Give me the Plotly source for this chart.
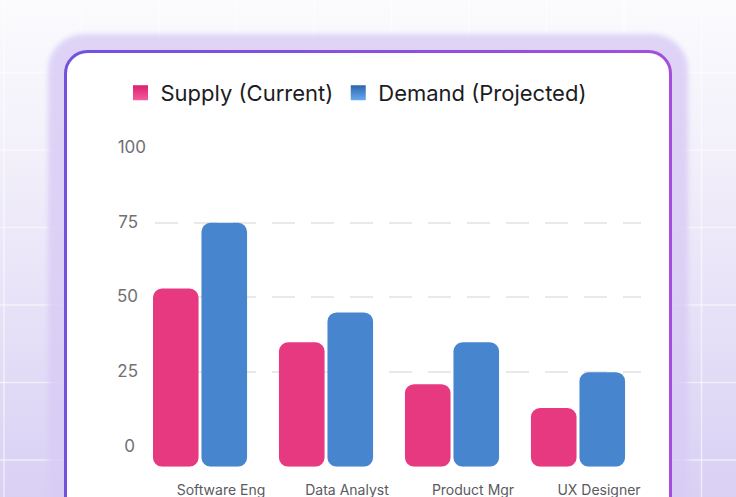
import base64
import plotly.graph_objects as go

# ---------------- data ----------------
CATEGORIES = ["Software Eng", "Data Analyst", "Product Mgr", "UX Designer"]
SUPPLY = [53, 35, 21, 13]
DEMAND = [75, 45, 35, 25]
Y_TICKS = [0, 25, 50, 75, 100]
Y_TICK_TEXT = ["0", "25", "50", "75", "100"]
GRID_VALUES = [25, 50, 75]
SERIES_NAMES = ["Supply (Current)", "Demand (Projected)"]

# ---------------- style ----------------
W, H = 736, 497
BASELINE = -6.6          # bars and baseline start slightly below zero
PINK = "#e7397f"
PINK_DARK, PINK_LIGHT = "#dc1f6e", "#f55c9e"
BLUE = "#4885cf"
BLUE_DARK, BLUE_LIGHT = "#2c66ad", "#68aaee"
FONT = "Inter"

# background (page gradient, faint grid, glow and card) as an SVG image
grid_lines = []
for k in range(8):
    y = 72.5 + 77.5 * k
    grid_lines.append(f'<line x1="0" y1="{y}" x2="{W}" y2="{y}" stroke="#ffffff" stroke-opacity="0.55" stroke-width="1.5"/>')
for k in range(10):
    x = 4 + 77.5 * k
    grid_lines.append(f'<line x1="{x}" y1="0" x2="{x}" y2="{H}" stroke="#ffffff" stroke-opacity="0.55" stroke-width="1.5"/>')

svg = f'''<svg xmlns="http://www.w3.org/2000/svg" width="{W}" height="{H}" viewBox="0 0 {W} {H}" preserveAspectRatio="none">
<defs>
<linearGradient id="bg" x1="0" y1="0" x2="0" y2="1">
<stop offset="0" stop-color="#fbfbfd"/><stop offset="0.35" stop-color="#f1eefa"/><stop offset="1" stop-color="#d9d0f4"/>
</linearGradient>
<linearGradient id="bd" x1="0" y1="0" x2="1" y2="0">
<stop offset="0" stop-color="#7052df"/><stop offset="1" stop-color="#a34fdc"/>
</linearGradient>
<filter id="bl" x="-10%" y="-10%" width="120%" height="120%"><feGaussianBlur stdDeviation="2.5"/></filter>
</defs>
<rect width="{W}" height="{H}" fill="url(#bg)"/>
{''.join(grid_lines)}
<rect x="48" y="34" width="640" height="520" rx="36" fill="#d8cbf5" fill-opacity="0.8" filter="url(#bl)"/>
<rect x="65.5" y="51.5" width="605" height="520" rx="22" fill="#ffffff" stroke="url(#bd)" stroke-width="3"/>
</svg>'''
bg_src = "data:image/svg+xml;base64," + base64.b64encode(svg.encode()).decode()

fig = go.Figure()
fig.add_trace(go.Bar(
    x=CATEGORIES, y=[v - BASELINE for v in SUPPLY], base=BASELINE,
    name=SERIES_NAMES[0], marker=dict(color=PINK, line=dict(width=0)),
    customdata=SUPPLY, hovertemplate="%{x}: %{customdata}<extra></extra>",
    showlegend=False,
))
fig.add_trace(go.Bar(
    x=CATEGORIES, y=[v - BASELINE for v in DEMAND], base=BASELINE,
    name=SERIES_NAMES[1], marker=dict(color=BLUE, line=dict(width=0)),
    customdata=DEMAND, hovertemplate="%{x}: %{customdata}<extra></extra>",
    showlegend=False,
))
# legend entries (larger gradient squares)
for name, c0, c1 in [(SERIES_NAMES[0], PINK_DARK, PINK_LIGHT),
                     (SERIES_NAMES[1], BLUE_DARK, BLUE_LIGHT)]:
    fig.add_trace(go.Scatter(
        x=[None], y=[None], mode="markers", name=name, hoverinfo="skip",
        marker=dict(symbol="square", size=15, color=c0,
                    gradient=dict(type="vertical", color=c1),
                    line=dict(width=0)),
    ))
# invisible trace that carries the grid-only overlay axis
fig.add_trace(go.Scatter(
    x=CATEGORIES, y=[None] * len(CATEGORIES), yaxis="y2",
    showlegend=False, hoverinfo="skip", mode="markers",
))

def pad(t):
    # centre the labels over each other (plotly right-aligns them)
    n = 3 - len(t)
    return t + "\u2007" * (n // 2) + ("\u2008\u2009" if n % 2 else "")

x_dom = [150 / W, 641 / W]
y_dom = [1 - 466.7 / H, 1 - 148 / H]
x_rng = [-0.397, 3.5]
y_rng = [BASELINE, 100]

fig.update_layout(
    width=W, height=H, autosize=False,
    margin=dict(l=0, r=0, t=0, b=0, pad=0, autoexpand=False),
    paper_bgcolor="rgba(0,0,0,0)", plot_bgcolor="rgba(0,0,0,0)",
    barmode="group", bargap=0.23, bargroupgap=0.06, barcornerradius=9,
    font=dict(family=FONT),
    images=[dict(source=bg_src, xref="paper", yref="paper", x=0, y=1,
                 sizex=1, sizey=1, xanchor="left", yanchor="top",
                 sizing="stretch", layer="below")],
    legend=dict(orientation="h", x=356 / W, xanchor="center", y=1 - 93 / H,
                yanchor="middle", font=dict(size=22, color="#1c1c22", family=FONT),
                bgcolor="rgba(0,0,0,0)", itemclick=False, itemdoubleclick=False,
                tracegroupgap=0),
    xaxis=dict(domain=x_dom, range=x_rng, type="category", showgrid=False,
               zeroline=False, showline=False, ticks="", automargin=False,
               tickfont=dict(size=14, color="#5a5a60", family=FONT),
               ticklabelshift=21, ticklabelstandoff=13, fixedrange=True),
    yaxis=dict(domain=y_dom, range=y_rng, tickvals=Y_TICKS,
               ticktext=[pad(t) for t in Y_TICK_TEXT], showgrid=False,
               zeroline=False, showline=False, ticks="", automargin=False,
               tickfont=dict(size=17, color="#707076", family=FONT),
               ticklabelstandoff=3, ticklabelshift=-1, fixedrange=True),
    yaxis2=dict(overlaying="y", range=y_rng, tickvals=[BASELINE] + GRID_VALUES,
                showticklabels=False, showgrid=True, gridcolor="#e9e9ec",
                gridwidth=1.5, griddash="0px,5px,23px,11px", zeroline=False,
                showline=False, ticks="", automargin=False, fixedrange=True),
    showlegend=True,
)

fig.write_html("out.html")
